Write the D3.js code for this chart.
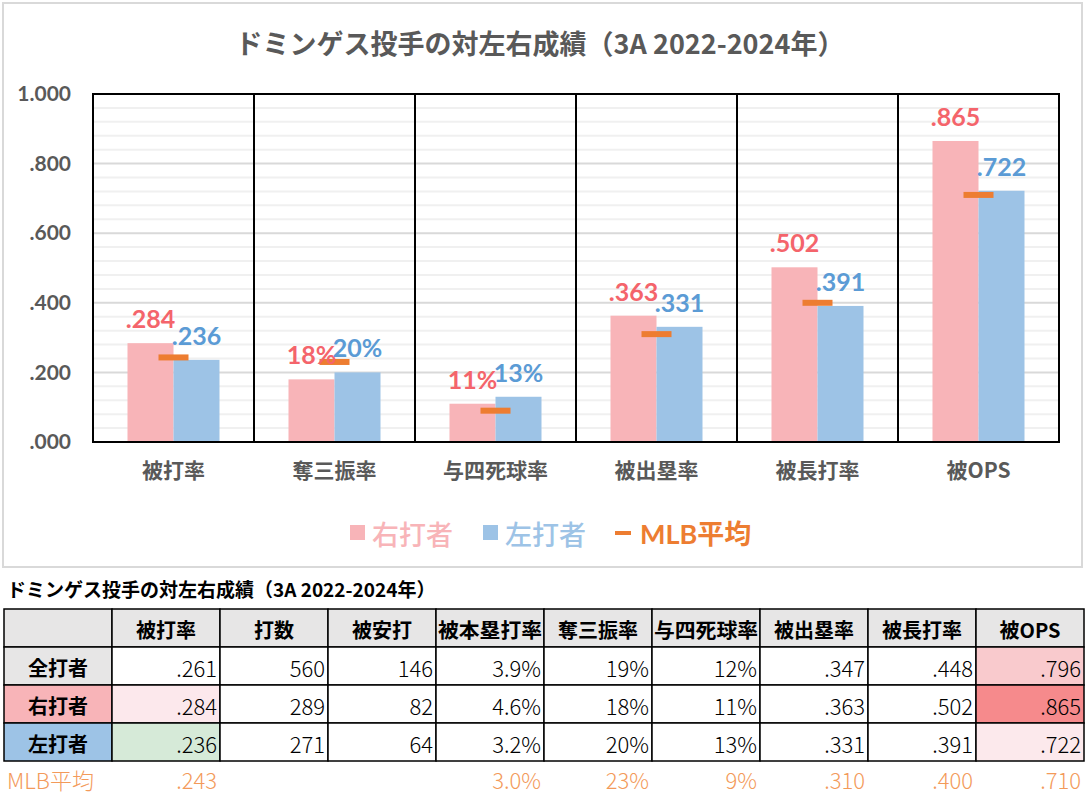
<!DOCTYPE html>
<html><head><meta charset="utf-8">
<script src="https://cdn.jsdelivr.net/npm/d3@7"></script>
<style>
html,body{margin:0;padding:0;background:#fff;}
svg{display:block;}
</style></head>
<body>
<svg id="c" width="1086" height="794"></svg>
<script>
// ---- data ----
const chartTitle = "ドミンゲス投手の対左右成績（3A 2022-2024年）";
const categories = ["被打率","奪三振率","与四死球率","被出塁率","被長打率","被OPS"];
const rightValues = [0.284, 0.18, 0.11, 0.363, 0.502, 0.865];
const leftValues  = [0.236, 0.20, 0.13, 0.331, 0.391, 0.722];
const mlbValues   = [0.243, 0.23, 0.09, 0.310, 0.400, 0.710];
const rightLabels = [".284","18%","11%",".363",".502",".865"];
const leftLabels  = [".236","20%","13%",".331",".391",".722"];
const yTicks = [0, 0.2, 0.4, 0.6, 0.8, 1.0];
const legendLabels = ["右打者","左打者","MLB平均"];

const tableTitle = "ドミンゲス投手の対左右成績（3A 2022-2024年）";
const tableColumns = ["被打率","打数","被安打","被本塁打率","奪三振率","与四死球率","被出塁率","被長打率","被OPS"];
const rowLabels = ["全打者","右打者","左打者"];
const rowAll   = [".261","560","146","3.9%","19%","12%",".347",".448",".796"];
const rowRight = [".284","289","82","4.6%","18%","11%",".363",".502",".865"];
const rowLeft  = [".236","271","64","3.2%","20%","13%",".331",".391",".722"];
const mlbLabel = "MLB平均";
const rowMlb   = [".243","","","3.0%","23%","9%",".310",".400",".710"];

// ---- styles ----
const C = {
  pinkBar:"#F8B4B8", blueBar:"#9DC3E6", pinkText:"#F4646B", blueText:"#5B9BD5",
  orange:"#ED7D31", gray:"#595959", majorGrid:"#D9D9D9", minorGrid:"#F0F0F0",
  headerBg:"#E7E6E6", mlbText:"#F39A5A"
};
const F = "Lato, 'Noto Sans CJK JP', sans-serif";
const FJ = "'Noto Sans CJK JP', sans-serif";

const svg = d3.select("#c");
svg.append("rect").attr("width",1086).attr("height",794).attr("fill","#fff");

// chart frame
svg.append("rect").attr("x",3).attr("y",3).attr("width",1079).attr("height",564)
  .attr("fill","#fff").attr("stroke","#D9D9D9").attr("stroke-width",2);

// title
svg.append("text").attr("x",540).attr("y",42).attr("text-anchor","middle")
  .attr("dominant-baseline","central")
  .attr("font-family",FJ).attr("font-weight",700).attr("font-size",27)
  .attr("fill",C.gray).text(chartTitle);

const L = 93, R = 1059, T = 94, B = 442;
const x = d3.scaleBand().domain(categories).range([L,R]).padding(0);
const y = d3.scaleLinear().domain([0,1]).range([B,T]);
const bw = 46;

// grid
const minor = d3.range(0, 1.0001, 0.04).filter(v => Math.abs(v*5 - Math.round(v*5)) > 1e-6);
svg.append("g").selectAll("line").data(minor).join("line")
  .attr("x1",L).attr("x2",R).attr("y1",d=>y(d)).attr("y2",d=>y(d))
  .attr("stroke",C.minorGrid).attr("stroke-width",2);
svg.append("g").selectAll("line").data(yTicks.filter(v=>v>0&&v<1)).join("line")
  .attr("x1",L).attr("x2",R).attr("y1",d=>y(d)).attr("y2",d=>y(d))
  .attr("stroke",C.majorGrid).attr("stroke-width",2);

// y axis
const yAxis = svg.append("g").attr("transform",`translate(${L},0)`)
  .call(d3.axisLeft(y).tickValues(yTicks).tickSize(0).tickPadding(22)
    .tickFormat(d => d3.format(".3f")(d).replace(/^0/,"")));
yAxis.select(".domain").remove();
yAxis.selectAll("text").attr("font-family",F).attr("font-weight",700)
  .attr("font-size",21).attr("fill",C.gray);

// bars
const data = categories.map((c,i)=>({c, r:rightValues[i], l:leftValues[i], m:mlbValues[i], rl:rightLabels[i], ll:leftLabels[i]}));
const cx = d => x(d.c) + x.bandwidth()/2;
svg.append("g").selectAll("rect").data(data).join("rect")
  .attr("x",d=>cx(d)-bw).attr("width",bw).attr("y",d=>y(d.r)).attr("height",d=>B-y(d.r))
  .attr("fill",C.pinkBar);
svg.append("g").selectAll("rect").data(data).join("rect")
  .attr("x",d=>cx(d)).attr("width",bw).attr("y",d=>y(d.l)).attr("height",d=>B-y(d.l))
  .attr("fill",C.blueBar);

// separators & frame
svg.append("g").selectAll("line").data(categories.slice(1)).join("line")
  .attr("x1",d=>x(d)).attr("x2",d=>x(d)).attr("y1",T).attr("y2",B)
  .attr("stroke","#000").attr("stroke-width",2);
svg.append("rect").attr("x",L).attr("y",T).attr("width",R-L).attr("height",B-T)
  .attr("fill","none").attr("stroke","#000").attr("stroke-width",2);

// mlb markers
svg.append("g").selectAll("rect").data(data).join("rect")
  .attr("x",d=>cx(d)-15).attr("width",30).attr("y",d=>y(d.m)-3).attr("height",6)
  .attr("fill",C.orange);

// value labels
svg.append("g").selectAll("text").data(data).join("text")
  .attr("x",d=>cx(d)-bw/2).attr("y",d=>y(d.r)-15).attr("text-anchor","middle")
  .attr("font-family",F).attr("font-weight",700).attr("font-size",25)
  .attr("fill",C.pinkText).text(d=>d.rl);
svg.append("g").selectAll("text").data(data).join("text")
  .attr("x",d=>cx(d)+bw/2).attr("y",d=>y(d.l)-15).attr("text-anchor","middle")
  .attr("font-family",F).attr("font-weight",700).attr("font-size",25)
  .attr("fill",C.blueText).text(d=>d.ll);

// x axis
const xAxis = svg.append("g").attr("transform",`translate(0,${B})`)
  .call(d3.axisBottom(x).tickSize(0).tickPadding(21));
xAxis.select(".domain").remove();
xAxis.selectAll("text").attr("font-family",FJ).attr("font-weight",700)
  .attr("font-size",21).attr("fill",C.gray);

// legend
const lg = svg.append("g");
const ly = 533;
lg.append("rect").attr("x",350).attr("y",ly-8).attr("width",15).attr("height",15).attr("fill",C.pinkBar);
lg.append("text").attr("x",372).attr("y",ly).attr("dominant-baseline","central")
  .attr("font-family",FJ).attr("font-weight",500).attr("font-size",27).attr("fill",C.pinkBar).text(legendLabels[0]);
lg.append("rect").attr("x",483).attr("y",ly-8).attr("width",15).attr("height",15).attr("fill",C.blueBar);
lg.append("text").attr("x",505).attr("y",ly).attr("dominant-baseline","central")
  .attr("font-family",FJ).attr("font-weight",500).attr("font-size",27).attr("fill",C.blueBar).text(legendLabels[1]);
lg.append("rect").attr("x",615).attr("y",ly-2).attr("width",16).attr("height",4).attr("fill",C.orange);
lg.append("text").attr("x",640).attr("y",ly).attr("dominant-baseline","central")
  .attr("font-family",F).attr("font-weight",700).attr("font-size",27).attr("fill",C.orange).text(legendLabels[2]);

// ---- table ----
svg.append("text").attr("x",7).attr("y",588).attr("dominant-baseline","central")
  .attr("font-family",FJ).attr("font-weight",700).attr("font-size",19)
  .attr("fill","#000").text(tableTitle);

const colKeys = ["_label"].concat(tableColumns);
const tx = d3.scaleBand().domain(colKeys).range([4,1084]).padding(0);
const rowKeys = ["_header"].concat(rowLabels);
const ty = d3.scaleBand().domain(rowKeys).range([609,761]).padding(0);

const rows = [rowAll,rowRight,rowLeft];
const labelBg = {"全打者":"#E7E6E6","右打者":"#F8B4B8","左打者":"#9DC3E6"};
const cellBg = {"右打者|被打率":"#FCE8EC","左打者|被打率":"#D6EAD8",
  "全打者|被OPS":"#F9CACD","右打者|被OPS":"#F68A8C","左打者|被OPS":"#FCE9EC"};

const cells = [];
colKeys.forEach(k => cells.push({r:"_header", c:k, t: k==="_label"?"":k, bg:C.headerBg, kind:"head"}));
rowLabels.forEach((rl,ri) => {
  cells.push({r:rl, c:"_label", t:rl, bg:labelBg[rl], kind:"head"});
  tableColumns.forEach((col,ci) => cells.push({r:rl, c:col, t:rows[ri][ci], bg:cellBg[rl+"|"+col]||"#fff", kind:"val"}));
});
const tg = svg.append("g");
tg.selectAll("rect").data(cells).join("rect")
  .attr("x",d=>tx(d.c)).attr("y",d=>ty(d.r)).attr("width",tx.bandwidth()).attr("height",ty.bandwidth())
  .attr("fill",d=>d.bg).attr("stroke","#000").attr("stroke-width",1.5);
tg.selectAll("text").data(cells).join("text")
  .attr("x",d=>d.kind==="head"? tx(d.c)+tx.bandwidth()/2 : tx(d.c)+tx.bandwidth()-3)
  .attr("y",d=>ty(d.r)+ty.bandwidth()/2+1)
  .attr("text-anchor",d=>d.kind==="head"?"middle":"end")
  .attr("dominant-baseline","central")
  .attr("font-family",FJ)
  .attr("font-weight",d=>d.kind==="head"?700:300)
  .attr("font-size",d=>d.kind==="head"?20:22)
  .attr("fill","#000")
  .attr("textLength",d=> (d.kind==="head" && d.t.length>=5) ? 104 : null)
  .attr("lengthAdjust","spacingAndGlyphs")
  .text(d=>d.t);

// MLB row
const mg = svg.append("g");
mg.append("text").attr("x",7).attr("y",779).attr("dominant-baseline","central")
  .attr("font-family",FJ).attr("font-weight",300).attr("font-size",22).attr("fill",C.mlbText).text(mlbLabel);
mg.selectAll("text.v").data(tableColumns.map((c,i)=>({c,t:rowMlb[i]}))).join("text").attr("class","v")
  .attr("x",d=>tx(d.c)+tx.bandwidth()-3).attr("y",779).attr("text-anchor","end")
  .attr("dominant-baseline","central")
  .attr("font-family",FJ).attr("font-weight",300).attr("font-size",22).attr("fill",C.mlbText).text(d=>d.t);
</script>
</body></html>
